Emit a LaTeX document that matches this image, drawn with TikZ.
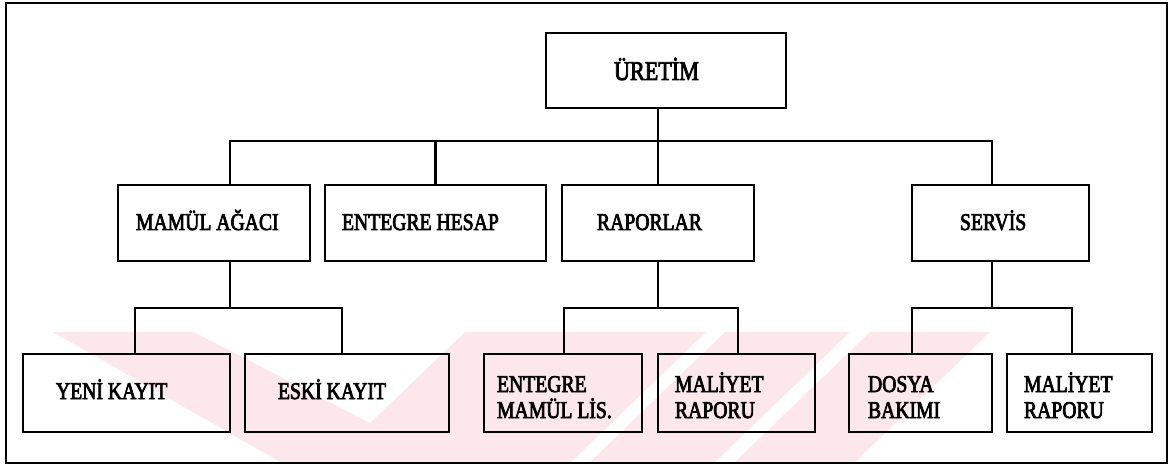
\documentclass[tikz,border=0pt]{standalone}
\usepackage{fontspec}
\setmainfont{Liberation Serif}[FakeStretch=0.82,FakeBold=3]
\definecolor{wmpink}{RGB}{252,231,235}
\begin{document}
\begin{tikzpicture}[x=1pt,y=-1pt,
  box/.style={draw,line width=2.6pt,inner sep=0pt,outer sep=0pt,minimum height=#1},
  box/.default=76pt,
  lbl/.style={inner sep=0pt,outer sep=0pt,anchor=base west,font=\fontsize{24}{28}\selectfont},
  wire/.style={line width=2.4pt,line cap=rect},
  drop/.style={line width=2.4pt}]
\useasboundingbox (0,0) rectangle (1176,465);

% pale emblem behind the lower row
\begin{scope}
  \clip (6,3) rectangle (1167,463);
  \fill[wmpink] (53,332) -- (706,332) -- (570,463) -- (282,463) -- cycle;
  \fill[white] (194,332) -- (465,332) -- (370,423) -- cycle;
  \fill[wmpink] (725,332) -- (850,332) -- (714,463) -- (589,463) -- cycle;
  \fill[wmpink] (870,332) -- (990,332) -- (854,463) -- (734,463) -- cycle;
\end{scope}

% outer frame
\draw[line width=2.2pt] (6,3) rectangle (1167,463);

% boxes
\node[box=75pt, minimum width=240pt] (uretim) at (666,70.5) {};
\node[box, minimum width=192pt] (mamul)  at (214,223) {};
\node[box, minimum width=221pt] (hesap)  at (435.5,223) {};
\node[box, minimum width=192pt] (rapor)  at (658,223) {};
\node[box, minimum width=177pt] (servis) at (1000.5,223) {};
\node[box=78pt, minimum width=207pt] (yeni)   at (126.5,393) {};
\node[box=78pt, minimum width=204pt] (eski)   at (347,393) {};
\node[box=78pt, minimum width=158pt] (entlis) at (563,393) {};
\node[box=78pt, minimum width=157pt] (mal1)   at (736.5,393) {};
\node[box=78pt, minimum width=143pt] (dosya)  at (920.5,393) {};
\node[box=78pt, minimum width=145pt] (mal2)   at (1079.5,393) {};

% labels
\node[lbl,font=\fontsize{27}{30}\selectfont] (tUretim) at (614,80) {ÜRETİM};
\node[lbl] (tMamul)  at (136,230) {MAMÜL AĞACI};
\node[lbl] (tHesap)  at (342,230) {ENTEGRE HESAP};
\node[lbl] (tRapor)  at (597,230) {RAPORLAR};
\node[lbl] (tServis) at (960,230) {SERVİS};
\node[lbl] (tYeni)   at (56,399)  {YENİ KAYIT};
\node[lbl] (tEski)   at (278,399) {ESKİ KAYIT};
\node[lbl] (tEnt1)   at (497,392) {ENTEGRE};
\node[lbl] (tEnt2)   at (497,418) {MAMÜL LİS.};
\node[lbl] (tMal1a)  at (675,392) {MALİYET};
\node[lbl] (tMal1b)  at (675,418) {RAPORU};
\node[lbl] (tDos1)   at (868,392) {DOSYA};
\node[lbl] (tDos2)   at (868,418) {BAKIMI};
\node[lbl] (tMal2a)  at (1024,392) {MALİYET};
\node[lbl] (tMal2b)  at (1024,418) {RAPORU};

% bus points
\coordinate (busL) at (230,141);
\coordinate (busR) at (992,141);
\coordinate (mJ)  at (230,308);
\coordinate (mL)  at (135,308);
\coordinate (mR)  at (342,308);
\coordinate (rJ)  at (658,308);
\coordinate (rL)  at (564,308);
\coordinate (rR)  at (738,308);
\coordinate (sJ)  at (992,308);
\coordinate (sL)  at (912,308);
\coordinate (sR)  at (1072,308);

% top level connectors
\draw[drop] (uretim.south -| rapor.north) -- (rapor.north);
\draw[wire] (mamul.north -| busL) -- (busL) -- (busR) -- (servis.north -| busR);
\draw[drop] (hesap.north) -- (hesap.north |- busL);

% second level connectors
\draw[drop] (mamul.south -| mJ) -- (mJ);
\draw[wire] (yeni.north -| mL) -- (mL) -- (mR) -- (eski.north -| mR);
\draw[drop] (rapor.south) -- (rJ);
\draw[wire] (entlis.north -| rL) -- (rL) -- (rR) -- (mal1.north -| rR);
\draw[drop] (servis.south -| sJ) -- (sJ);
\draw[wire] (dosya.north -| sL) -- (sL) -- (sR) -- (mal2.north -| sR);
\end{tikzpicture}
\end{document}
